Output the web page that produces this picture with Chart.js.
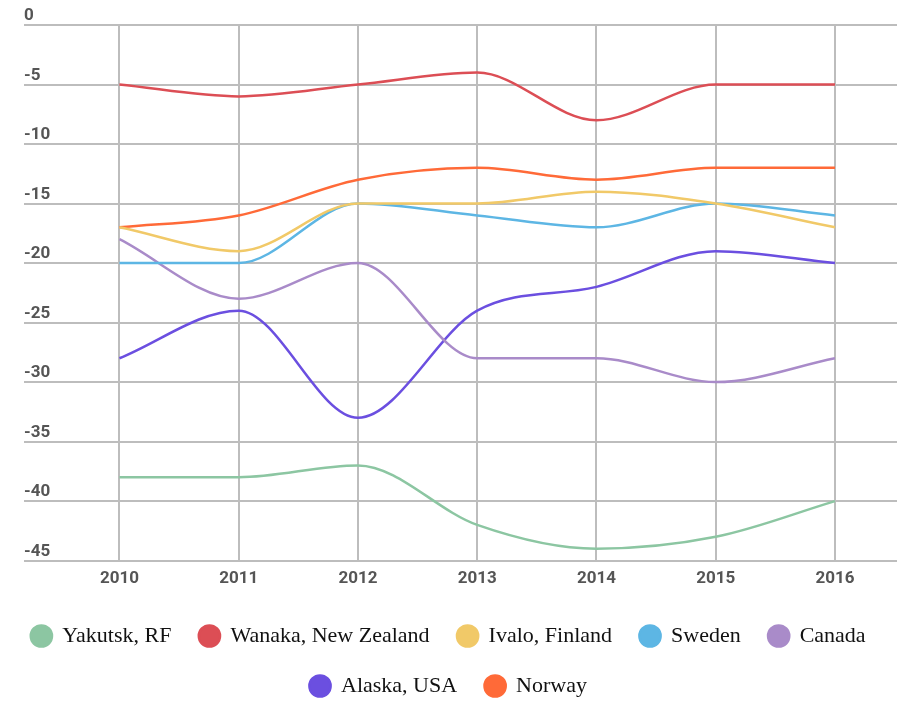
<!DOCTYPE html>
<html>
<head>
<meta charset="utf-8">
<script src="https://cdn.jsdelivr.net/npm/chart.js@4.4.0/dist/chart.umd.min.js"></script>
<style>
  html, body { margin: 0; padding: 0; background: #fff; }
  #wrap { width: 897px; height: 701px; }
</style>
</head>
<body>
<div id="wrap"><canvas id="tempChart"></canvas></div>
<script>
const years = [2010, 2011, 2012, 2013, 2014, 2015, 2016];
const yTicks = [0, -5, -10, -15, -20, -25, -30, -35, -40, -45];

const yakutsk = [-38, -38, -37, -42, -44, -43, -40];
const wanaka  = [-5, -6, -5, -4, -8, -5, -5];
const ivalo   = [-17, -19, -15, -15, -14, -15, -17];
const sweden  = [-20, -20, -15, -16, -17, -15, -16];
const canada  = [-18, -23, -20, -28, -28, -30, -28];
const alaska  = [-28, -24, -33, -24, -22, -19, -20];
const norway  = [-17, -16, -13, -12, -13, -12, -12];

function series(label, values, color) {
    return {
        label: label,
        data: values.map((v, i) => ({ x: years[i], y: v })),
        borderColor: color,
        backgroundColor: color,
        borderWidth: 2.5,
        pointRadius: 0,
        pointHoverRadius: 0,
        cubicInterpolationMode: 'monotone',
        fill: false
    };
}

const ctx = document.getElementById('tempChart').getContext('2d');
new Chart(ctx, {
    type: 'line',
    data: {
        datasets: [
            series('Yakutsk, RF', yakutsk, '#8cc6a2'),
            series('Wanaka, New Zealand', wanaka, '#dc4e55'),
            series('Ivalo, Finland', ivalo, '#f1c968'),
            series('Sweden', sweden, '#5db6e4'),
            series('Canada', canada, '#a98bc9'),
            series('Alaska, USA', alaska, '#6b4fe0'),
            series('Norway', norway, '#ff6a38')
        ]
    },
    options: {
        responsive: true,
        maintainAspectRatio: false,
        animation: false,
        events: [],
        layout: { padding: { left: 0, top: 25, right: 0, bottom: -6 } },
        scales: {
            x: {
                type: 'linear',
                min: 2009.2,
                max: 2016.52,
                afterBuildTicks: scale => { scale.ticks = years.map(v => ({ value: v })); },
                grid: { color: '#bdbdbd', lineWidth: 2, drawTicks: false },
                border: { display: false },
                ticks: {
                    padding: 8,
                    color: '#555',
                    font: { family: 'Roboto', size: 17, weight: 'bold' },
                    callback: v => String(v)
                }
            },
            y: {
                min: -45,
                max: 0,
                afterBuildTicks: scale => { scale.ticks = yTicks.map(v => ({ value: v })); },
                afterFit: scale => { scale.width = 24; },
                grid: { color: '#bdbdbd', lineWidth: 2, drawTicks: false },
                border: { display: false },
                ticks: {
                    mirror: true,
                    padding: 0,
                    labelOffset: -9,
                    color: '#555',
                    font: { family: 'Roboto', size: 17, weight: 'bold' }
                }
            }
        },
        plugins: {
            tooltip: { enabled: false },
            legend: {
                position: 'bottom',
                labels: {
                    usePointStyle: true,
                    pointStyle: 'circle',
                    boxWidth: 20,
                    boxHeight: 15,
                    padding: 28,
                    color: '#111',
                    font: { family: 'Liberation Serif', size: 22 }
                }
            }
        }
    }
});
</script>
</body>
</html>
